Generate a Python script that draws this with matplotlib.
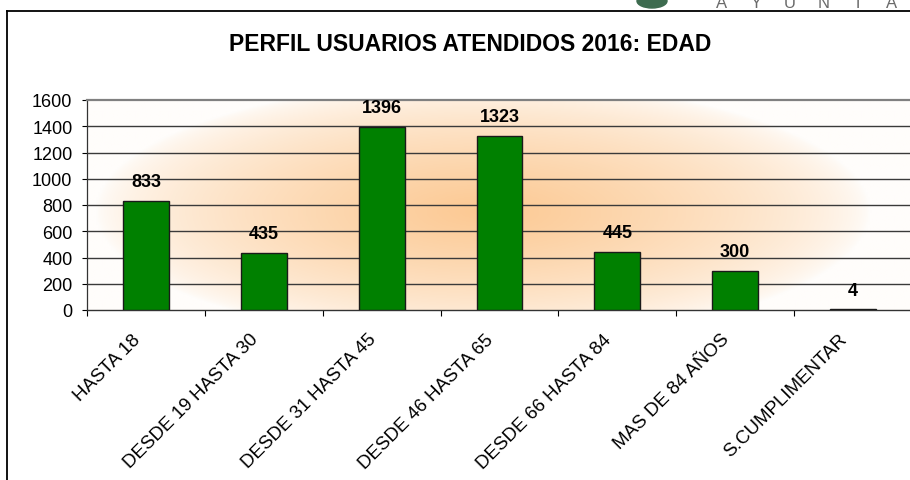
import numpy as np
import matplotlib
matplotlib.use("Agg")
import matplotlib.pyplot as plt
from matplotlib.colors import LinearSegmentedColormap
from matplotlib.lines import Line2D
from matplotlib.patches import Ellipse

# ── data ─────────────────────────────────────────────
categories = ["HASTA 18", "DESDE 19 HASTA 30", "DESDE 31 HASTA 45",
              "DESDE 46 HASTA 65", "DESDE 66 HASTA 84", "MAS DE 84 AÑOS",
              "S.CUMPLIMENTAR"]
values = [833, 435, 1396, 1323, 445, 300, 4]
title = "PERFIL USUARIOS ATENDIDOS 2016: EDAD"
y_ticks = list(range(0, 1601, 200))

plt.rcParams['font.family'] = ['Liberation Sans', 'DejaVu Sans']

W, H = 910, 481
fig = plt.figure(figsize=(W / 100, H / 100), dpi=100)
fig.patch.set_facecolor('white')

# plot area in pixels: x 87..912, y 101..311
ax = fig.add_axes([87 / W, 1 - 311 / H, 825 / W, 210 / H])

# background gradient (peach centre fading to white)
nx, ny = 400, 200
gx, gy = np.meshgrid(np.linspace(0, 1, nx), np.linspace(0, 1, ny))
d = np.sqrt(((gx - 0.48) / 0.47) ** 2 + ((gy - 0.47) / 0.62) ** 2)
inten = np.clip(1 - d, 0, 1) ** 0.65
cmap = LinearSegmentedColormap.from_list("peach", ["#fffdfb", "#fcc993"])
ax.imshow(inten, cmap=cmap, vmin=0, vmax=1, extent=[0, 1, 0, 1],
          transform=ax.transAxes, origin='lower', aspect='auto', zorder=0,
          interpolation='bilinear')

x = np.arange(len(categories))
ax.set_xlim(-0.5, len(categories) - 0.5)
ax.set_ylim(0, 1600)

for yv in y_ticks[1:-1]:
    ax.axhline(yv, color='#3a3a3a', lw=1.0, zorder=1)

ax.bar(x, values, width=0.39, color='#008000', edgecolor='#1a1a1a',
       linewidth=1.0, zorder=3)

for xi, v in zip(x, values):
    ax.annotate(str(v), (xi, v), xytext=(0, 14), textcoords='offset points',
                ha='center', va='center', fontsize=13, fontweight='bold',
                color='black', zorder=4)

ax.set_yticks(y_ticks)
ax.set_yticklabels([str(t) for t in y_ticks], fontsize=13)
ax.tick_params(axis='y', length=3.5, width=0.8, pad=7)

# x ticks at category borders, labels at centres
ax.set_xticks(np.arange(-0.5, len(categories) - 0.4, 1.0))
ax.set_xticklabels([])
ax.tick_params(axis='x', length=4, width=0.8, direction='out')
for xi, lab in zip(x, categories):
    ax.annotate(lab, (xi, 0), xytext=(-6, -19), textcoords='offset points',
                ha='right', va='center', rotation=45, rotation_mode='anchor',
                fontsize=13.5, annotation_clip=False)

ax.spines['top'].set_color('#808080')
ax.spines['top'].set_linewidth(1.6)
ax.spines['right'].set_visible(False)
ax.spines['left'].set_color('#333333')
ax.spines['bottom'].set_color('#333333')
ax.spines['left'].set_linewidth(0.9)
ax.spines['bottom'].set_linewidth(1.0)

fig.text(470 / W, 1 - 45 / H, title, ha='center', va='center',
         fontsize=16.5, fontweight='bold')

# outer frame (left and top border)
fig.add_artist(Line2D([7 / W, 7 / W], [0, 1 - 12 / H], color='black', lw=1.3,
                      transform=fig.transFigure))
fig.add_artist(Line2D([7 / W, 1], [1 - 12 / H, 1 - 12 / H], color='black', lw=1.3,
                      transform=fig.transFigure))

# cut-off logo at the top right
for i, ch in enumerate("AYUNTA"):
    fig.text((722 + i * 34) / W, 1 - 8 / H, ch, ha='center', va='baseline',
             fontsize=12, color='#6a6a6a')
fig.add_artist(Ellipse((652 / W, 1 - 2 / H), 30 / W, 14 / H,
                       transform=fig.transFigure, color='#3d6b4f', zorder=2))

fig.savefig("out.png", dpi=100)
